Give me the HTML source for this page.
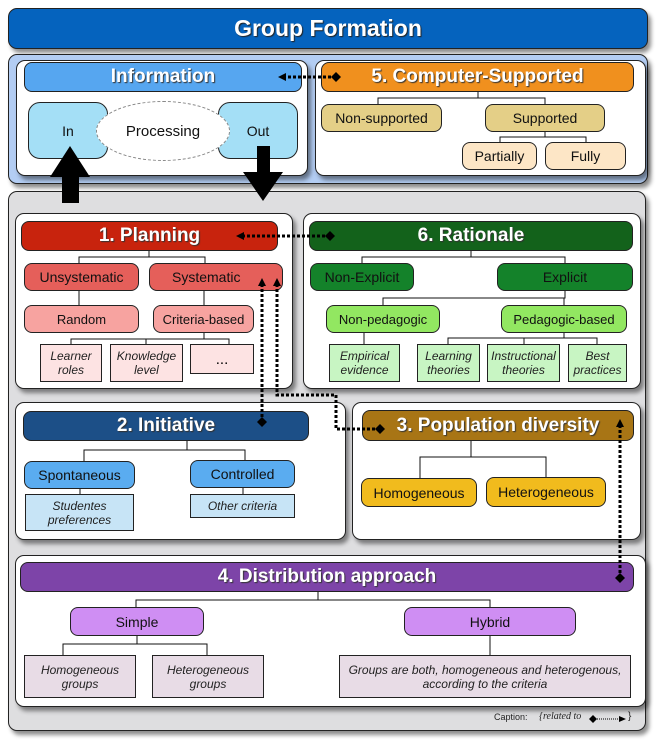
<!DOCTYPE html>
<html><head><meta charset="utf-8"><style>
body{margin:0;width:661px;height:745px;background:#fff;position:relative;overflow:hidden;font-family:"Liberation Sans",Arial,sans-serif;}
.b{position:absolute;box-sizing:border-box;display:flex;align-items:center;justify-content:center;text-align:center;border:1px solid #222;}
.r{border-radius:9px;}
.p{border-radius:9px;box-shadow:3px 4px 4px rgba(0,0,0,.45);}
.h{color:#fff;font-weight:bold;font-size:19px;border-radius:8px;text-shadow:1px 1px 1px #333;}
.n{font-size:14px;color:#111;border-radius:8px;}
.l{font-size:12px;font-style:italic;color:#222;line-height:14px;}
svg{position:absolute;left:0;top:0;}
</style></head><body>
<div class="b p" style="left:8px;top:8px;width:640px;height:41px;background:#0563be;color:#fff;font-weight:bold;font-size:23px;text-shadow:1px 1px 1px #222;">Group Formation</div>
<div class="b p" style="left:8px;top:54px;width:640px;height:130px;background:#b3cdf3;"></div>
<div class="b p" style="left:8px;top:191px;width:638px;height:540px;background:#dedee0;"></div>

<!-- info -->
<div class="b p" style="left:16px;top:60px;width:292px;height:116px;background:#fff;"></div>
<div class="b h" style="left:24px;top:62px;width:278px;height:30px;background:#56a6f0;">Information</div>
<div class="b n" style="left:28px;top:102px;width:80px;height:57px;background:#a4dff6;border-radius:12px;">In</div>
<div class="b n" style="left:218px;top:102px;width:80px;height:57px;background:#a4dff6;border-radius:12px;">Out</div>
<div class="b n" style="left:96px;top:101px;width:134px;height:60px;background:#fff;border-radius:50%;border:1px dashed #888;font-size:15px;">Processing</div>

<!-- computer -->
<div class="b p" style="left:315px;top:60px;width:331px;height:116px;background:#fff;"></div>
<div class="b h" style="left:321px;top:62px;width:313px;height:30px;background:#f0901e;">5. Computer-Supported</div>
<div class="b n" style="left:321px;top:104px;width:121px;height:28px;background:#e4cf87;">Non-supported</div>
<div class="b n" style="left:485px;top:104px;width:120px;height:28px;background:#e4cf87;">Supported</div>
<div class="b n" style="left:462px;top:142px;width:75px;height:28px;background:#fde6c6;">Partially</div>
<div class="b n" style="left:545px;top:142px;width:81px;height:28px;background:#fde6c6;">Fully</div>

<!-- planning -->
<div class="b p" style="left:15px;top:213px;width:278px;height:176px;background:#fff;"></div>
<div class="b h" style="left:21px;top:221px;width:257px;height:30px;background:#c8230d;">1. Planning</div>
<div class="b n" style="left:24px;top:263px;width:115px;height:28px;background:#e55f5a;">Unsystematic</div>
<div class="b n" style="left:149px;top:263px;width:134px;height:28px;background:#e55f5a;justify-content:flex-start;padding-left:22px;">Systematic</div>
<div class="b n" style="left:24px;top:305px;width:115px;height:28px;background:#f7a3a0;font-size:13px;">Random</div>
<div class="b n" style="left:153px;top:305px;width:101px;height:28px;background:#f7a3a0;font-size:13px;">Criteria-based</div>
<div class="b l" style="left:40px;top:344px;width:62px;height:38px;background:#fde3e3;">Learner<br>roles</div>
<div class="b l" style="left:110px;top:344px;width:73px;height:38px;background:#fde3e3;">Knowledge<br>level</div>
<div class="b" style="left:190px;top:344px;width:64px;height:30px;background:#fde3e3;font-size:15px;">...</div>

<!-- rationale -->
<div class="b p" style="left:303px;top:213px;width:338px;height:176px;background:#fff;"></div>
<div class="b h" style="left:309px;top:221px;width:324px;height:30px;background:#13621b;">6. Rationale</div>
<div class="b n" style="left:310px;top:263px;width:104px;height:28px;background:#14822a;">Non-Explicit</div>
<div class="b n" style="left:497px;top:263px;width:136px;height:28px;background:#14822a;">Explicit</div>
<div class="b n" style="left:326px;top:305px;width:114px;height:28px;background:#92e761;font-size:13px;">Non-pedagogic</div>
<div class="b n" style="left:501px;top:305px;width:126px;height:28px;background:#92e761;font-size:13px;">Pedagogic-based</div>
<div class="b l" style="left:329px;top:344px;width:71px;height:38px;background:#c8f5c3;">Empirical<br>evidence</div>
<div class="b l" style="left:417px;top:344px;width:63px;height:38px;background:#c8f5c3;">Learning<br>theories</div>
<div class="b l" style="left:487px;top:344px;width:73px;height:38px;background:#c8f5c3;">Instructional<br>theories</div>
<div class="b l" style="left:568px;top:344px;width:59px;height:38px;background:#c8f5c3;">Best<br>practices</div>

<!-- initiative -->
<div class="b p" style="left:15px;top:402px;width:331px;height:138px;background:#fff;"></div>
<div class="b h" style="left:23px;top:411px;width:286px;height:30px;background:#1c4f87;">2. Initiative</div>
<div class="b n" style="left:24px;top:461px;width:111px;height:28px;background:#5aacf0;">Spontaneous</div>
<div class="b n" style="left:190px;top:460px;width:105px;height:28px;background:#5aacf0;">Controlled</div>
<div class="b l" style="left:25px;top:494px;width:109px;height:37px;background:#c7e4f6;">Studentes<br>preferences</div>
<div class="b l" style="left:190px;top:494px;width:105px;height:24px;background:#c7e4f6;">Other criteria</div>

<!-- population -->
<div class="b p" style="left:352px;top:402px;width:289px;height:138px;background:#fff;"></div>
<div class="b h" style="left:362px;top:410px;width:272px;height:31px;background:#a87515;">3. Population diversity</div>
<div class="b n" style="left:361px;top:478px;width:116px;height:29px;background:#f1bb1d;">Homogeneous</div>
<div class="b n" style="left:486px;top:477px;width:120px;height:30px;background:#f1bb1d;">Heterogeneous</div>

<!-- distribution -->
<div class="b p" style="left:15px;top:555px;width:631px;height:152px;background:#fff;"></div>
<div class="b h" style="left:20px;top:562px;width:614px;height:30px;background:#7d44a8;">4. Distribution approach</div>
<div class="b n" style="left:70px;top:607px;width:134px;height:29px;background:#cf8ef3;">Simple</div>
<div class="b n" style="left:404px;top:607px;width:172px;height:29px;background:#cf8ef3;">Hybrid</div>
<div class="b l" style="left:24px;top:655px;width:112px;height:43px;background:#e8dce6;">Homogeneous<br>groups</div>
<div class="b l" style="left:152px;top:655px;width:112px;height:43px;background:#e8dce6;">Heterogeneous<br>groups</div>
<div class="b l" style="left:339px;top:655px;width:292px;height:43px;background:#e8dce6;">Groups are both, homogeneous and heterogenous,<br>according to the criteria</div>
<div style="position:absolute;left:494px;top:712px;font-size:9px;color:#222;">Caption:</div>
<div style="position:absolute;left:539px;top:711px;font-size:10px;font-style:italic;font-family:'Liberation Serif',serif;color:#222;">{related to</div>
<div style="position:absolute;left:628px;top:711px;font-size:10px;color:#222;">}</div>

<svg width="661" height="745">
<g stroke="#111" stroke-width="1" fill="none">
<path d="M478 92V98H378V104M478 98H545V104M545 132V137H500V142M545 137H586V142"/>
<path d="M149 251V257H79V263M149 257H205V263M79 291V305M204 291V305M204 333V339H71V344M204 339H146V344M204 339H229V344"/>
<path d="M471 251V257H362V263M471 257H565V263M565 291V298H383V305M565 298H564V305M364 333V344M564 333V338H448V344M564 338H524V344M564 338H597V344"/>
<path d="M187 441V450H84V461M187 450H245V460M80 489V494M243 488V494"/>
<path d="M471 441V457H420V478M471 457H546V477"/>
<path d="M318 592V600H136V607M318 600H490V607M137 636V644H63V655M137 644H207V655M490 636V655"/>
</g>
<g stroke="#000" stroke-width="3" stroke-dasharray="3,2" fill="none">
<path d="M336 77H284"/>
<path d="M330 236H242"/>
<path d="M262 422V284"/>
<path d="M277 284V395H336V429H379"/>
<path d="M620 578V424"/>
</g>
<g fill="#000">
<path d="M336 72L341 77L336 82L331 77Z"/><path d="M278 77L286 73L286 81Z"/>
<path d="M330 231L335 236L330 241L325 236Z"/><path d="M236 236L244 232L244 240Z"/>
<path d="M262 417L267 422L262 427L257 422Z"/><path d="M262 278L258 286L266 286Z"/><path d="M277 278L273 286L281 286Z"/>
<path d="M380 424L385 429L380 434L375 429Z"/>
<path d="M620 573L625 578L620 583L615 578Z"/><path d="M620 419L616 427L624 427Z"/>
<path d="M70 146L50 177H62V203H79V177H90Z"/>
<path d="M263 201L243 172H257V146H270V172H283Z"/>
<path d="M593 715L597 719L593 723L589 719Z"/><path d="M626 719L619 716L619 722Z"/>
</g>
<path d="M597 719H619" stroke="#000" stroke-width="1" stroke-dasharray="1,1"/>
</svg>
</body></html>
